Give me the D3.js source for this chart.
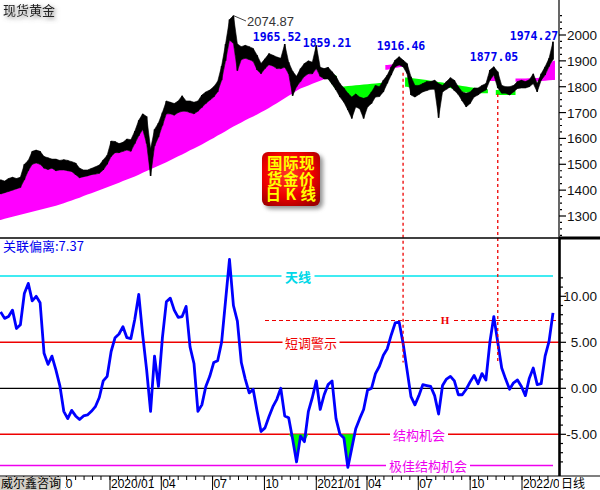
<!DOCTYPE html>
<html><head><meta charset="utf-8">
<script src="https://cdn.jsdelivr.net/npm/d3@7"></script>
<style>
html,body{margin:0;padding:0;background:#fff;}
svg{display:block;}
</style></head><body>
<svg id="c" width="600" height="490"></svg>
<script>
// ---------- DATA (weekly samples) ----------
const startDate = "2019-06-21";
const stepDays = 7;

const priceHigh = [
1440,1435,1445,1450,1445,1450,1500,1515,1550,1555,
1550,1530,1525,1520,1520,1515,1518,1515,1510,1505,
1485,1478,1478,1484,1490,1497,1517,1535,1590,1588,
1580,1585,1598,1595,1628,1670,1695,1685,1560,1635,
1660,1700,1745,1740,1735,1745,1765,1745,1745,1740,
1745,1768,1780,1787,1800,1820,1880,1965,2060,2075,
1965,1955,1960,1955,1948,1922,1890,1908,1928,1922,
1915,1910,1965,1895,1860,1840,1870,1890,1900,1895,
1960,1875,1870,1875,1858,1840,1812,1795,1775,1760,
1772,1760,1755,1760,1780,1805,1800,1825,1845,1877,
1903,1916,1903,1890,1839,1805,1805,1812,1820,1820,
1825,1812,1805,1820,1835,1825,1800,1780,1775,1780,
1795,1795,1805,1812,1865,1877,1858,1805,1800,1800,
1805,1820,1825,1820,1827,1850,1812,1850,1877,1910,
1974];

const priceLow = [
1385,1390,1395,1400,1405,1410,1440,1475,1500,1505,
1500,1485,1480,1485,1475,1478,1478,1475,1472,1460,
1448,1452,1455,1460,1462,1465,1478,1500,1530,1545,
1545,1550,1555,1550,1580,1610,1635,1580,1455,1570,
1605,1650,1695,1695,1690,1700,1705,1705,1700,1695,
1705,1720,1735,1748,1760,1780,1825,1900,1980,1968,
1862,1905,1910,1905,1898,1865,1850,1870,1885,1880,
1870,1870,1875,1850,1765,1800,1820,1840,1850,1850,
1870,1840,1830,1830,1810,1787,1760,1740,1710,1677,
1722,1715,1677,1722,1735,1760,1762,1780,1813,1845,
1877,1884,1877,1851,1768,1760,1770,1780,1785,1790,
1790,1680,1780,1790,1800,1785,1770,1745,1722,1735,
1760,1768,1780,1787,1825,1845,1795,1775,1775,1768,
1780,1793,1795,1795,1800,1812,1780,1825,1845,1878,
1905];

const baseLine = [
1285,1289,1293,1297,1301,1305,1309,1313,1316,1320,
1324,1328,1332,1336,1340,1344,1349,1355,1360,1366,
1371,1377,1383,1388,1394,1400,1405,1411,1417,1423,
1429,1435,1441,1447,1453,1460,1467,1474,1481,1488,
1494,1501,1508,1516,1523,1531,1538,1546,1554,1561,
1569,1577,1585,1594,1602,1611,1619,1628,1637,1646,
1654,1662,1670,1678,1685,1693,1701,1709,1718,1727,
1736,1746,1755,1765,1774,1784,1793,1799,1805,1811,
1817,1823,1829,1835,1840,1845,1800,1801,1803,1804,
1806,1807,1809,1810,1811,1812,1814,1815,1866,1869,
1872,1875,1878,1836,1834,1832,1830,1828,1826,1823,
1821,1818,1816,1813,1811,1808,1806,1803,1801,1798,
1796,1794,1792,1790,1822,1822,1787,1786,1785,1785,
1784,1819,1819,1819,1820,1820,1821,1822,1823,1825,
1826];

const fillEdge = [
1385,1390,1395,1400,1405,1410,1440,1475,1500,1505,
1500,1485,1480,1485,1475,1478,1478,1475,1472,1460,
1448,1452,1455,1460,1462,1465,1478,1500,1530,1545,
1545,1550,1555,1550,1580,1610,1635,1580,1486,1570,
1605,1650,1695,1695,1690,1700,1705,1705,1700,1695,
1705,1720,1735,1748,1760,1780,1825,1900,1980,1968,
1862,1905,1910,1905,1898,1865,1850,1870,1885,1880,
1870,1870,1875,1850,1785,1800,1820,1840,1850,1850,
1870,1840,1830,1830,1810,1787,1785,1760,1748,1740,
1735,1735,1745,1750,1760,1770,1780,1800,1884,1886,
1888,1890,1892,1800,1795,1795,1795,1800,1800,1802,
1800,1798,1796,1795,1795,1790,1785,1780,1778,1778,
1776,1775,1775,1775,1841,1841,1768,1768,1768,1768,
1768,1832,1832,1832,1833,1834,1834,1836,1845,1878,
1900];

const deviation = [
8.3,7.6,7.8,8.5,6.5,6.9,10.3,11.4,9.5,10.0,
9.3,3.8,2.6,3.5,2.0,0.3,-2.5,-3.3,-2.4,-3.0,
-3.4,-3.0,-2.9,-2.5,-2.0,-1.0,0.8,1.3,4.0,5.5,
5.9,6.7,5.5,5.4,7.5,10.2,5.8,2.0,-2.5,3.5,
0.2,5.5,9.4,9.8,8.5,7.7,7.8,8.9,4.5,2.7,
-2.5,-1.8,0.2,1.3,2.8,3.0,5.0,9.5,14.0,9.0,
7.3,2.8,1.0,-0.5,-0.1,-2.5,-4.7,-4.3,-3.1,-2.0,
-1.2,0.0,-3.0,-3.2,-5.5,-8.0,-5.2,-5.8,-2.5,-1.0,
0.8,-2.3,-0.7,0.4,0.8,-3.3,-5.0,-5.4,-8.6,-6.5,
-4.4,-3.3,-2.3,-0.2,0.0,1.6,2.4,3.6,4.3,5.8,
7.1,7.2,4.9,2.0,-0.9,-1.8,-0.8,0.4,0.3,0.2,
-0.8,-2.8,0.3,1.0,1.3,0.8,-0.7,-0.7,-0.1,0.7,
1.4,0.5,1.6,0.9,5.0,7.8,5.0,2.2,1.0,-0.1,
0.6,0.9,0.2,-0.8,1.1,2.2,0.4,0.5,3.5,5.1,
8.2];

const priceTicks = [1300,1400,1500,1600,1700,1800,1900,2000];
const devTicks = [-5,0,5,10];
const devTickLabels = ["-5.00","0.00","5.00","10.00"];
const axisDates = ["2019-10-01","2020-01-01","2020-04-01","2020-07-01","2020-10-01","2021-01-01","2021-04-01","2021-07-01","2021-10-01","2022-01-01"];
const axisLabels = ["10","2020/01","04","07","10","2021/01","04","07","10","2022/0"];

const skyLevel = 12.2, warnLevel = 5, zeroLevel = 0, chanceLevel = -5, bestLevel = -8.4;
const hLevel = 7.37;
const lastDeviation = 7.37;
const peakLabels = ["1965.52","1859.21","1916.46","1877.05","1974.27"];
const maxLabel = "2074.87";
const markDates = ["2021-06-04","2021-11-19"];   // red dashed vertical marks

// ---------- SETUP ----------
const parse = d3.timeParse("%Y-%m-%d");
const t0 = parse(startDate);
const rows = priceHigh.map((h,i)=>({
  date: d3.timeDay.offset(t0, i*stepDays),
  hi: h, lo: priceLow[i], base: baseLine[i], edge: fillEdge[i], dev: deviation[i]
}));

const svg = d3.select("#c");
const W = 600, H = 490, plotR = 559, divY = 238, botY = 476;
const x = d3.scaleTime().domain([parse("2020-01-01"), parse("2022-01-01")]).range([110, 522]);
const yP = d3.scaleLinear().domain([1300, 2000]).range([216, 35]);
const yD = d3.scaleLinear().domain([0, 10]).range([388.3, 296.3]);

const defs = svg.append("defs");
defs.append("clipPath").attr("id","clipTop").append("rect").attr("x",0).attr("y",0).attr("width",plotR).attr("height",divY);
defs.append("clipPath").attr("id","clipBot").append("rect").attr("x",0).attr("y",divY).attr("width",plotR).attr("height",botY-divY);
defs.append("clipPath").attr("id","clipAxis").append("rect").attr("x",65).attr("y",476).attr("width",plotR-65).attr("height",14);
const sh = defs.append("filter").attr("id","txtShadow").attr("x","-20%").attr("y","-40%").attr("width","150%").attr("height","200%");
sh.append("feDropShadow").attr("dx",2).attr("dy",2).attr("stdDeviation",2).attr("flood-color","#777").attr("flood-opacity",0.9);
const blur = defs.append("filter").attr("id","blur3");
blur.append("feGaussianBlur").attr("stdDeviation",2);
const rg = defs.append("radialGradient").attr("id","badgeGrad").attr("cx","45%").attr("cy","40%").attr("r","70%");
rg.append("stop").attr("offset","0%").attr("stop-color","#ff3a2a");
rg.append("stop").attr("offset","60%").attr("stop-color","#ee0000");
rg.append("stop").attr("offset","100%").attr("stop-color","#a00000");

// ---------- TOP PANEL ----------
const topG = svg.append("g").attr("clip-path","url(#clipTop)");

function buildRuns(pred){
  const out=[]; let cur=null;
  rows.forEach(r=>{ if(pred(r)){ if(!cur){cur=[];out.push(cur);} cur.push(r);} else cur=null; });
  const half = (x(rows[1].date)-x(rows[0].date))/2;
  return out.map(run=>{
    const pts = run.map(r=>({px:x(r.date), base:r.base, edge:r.edge}));
    const f = pts[0], l = pts[pts.length-1];
    return [{px:f.px-half, base:f.base, edge:f.edge}, ...pts, {px:l.px+half, base:l.base, edge:l.edge}];
  });
}
const fillArea = d3.area().x(d=>d.px).y0(d=>yP(d.base)).y1(d=>yP(d.edge));
buildRuns(r=>r.edge>=r.base).forEach(run=>{
  topG.append("path").attr("d",fillArea(run)).attr("fill","#ff00ff");
});
buildRuns(r=>r.edge<r.base).forEach(run=>{
  topG.append("path").attr("d",fillArea(run)).attr("fill","#00ff00");
});

// candles: dense band plus vertical bars
const band = d3.area().x(d=>x(d.date)).y0(d=>yP(d.lo)).y1(d=>yP(d.hi));
topG.append("path").attr("d",band(rows)).attr("fill","#000").attr("stroke","#000").attr("stroke-width",0.6);
topG.selectAll("line.cd").data(rows).join("line").attr("class","cd")
  .attr("x1",d=>x(d.date)).attr("x2",d=>x(d.date))
  .attr("y1",d=>yP(d.hi)).attr("y2",d=>yP(d.lo))
  .attr("stroke","#000").attr("stroke-width",1.6);

// ---------- BOTTOM PANEL ----------
const bot = svg.append("g").attr("clip-path","url(#clipBot)");
function hline(level, color, x1, x2, dash, w){
  bot.append("line").attr("x1",x1).attr("x2",x2).attr("y1",yD(level)).attr("y2",yD(level))
    .attr("stroke",color).attr("stroke-width",w||1.2).attr("stroke-dasharray",dash||null);
}
hline(skyLevel, "#00e5ee", 0, 553, null, 1.5);
hline(warnLevel, "#ee0000", 0, plotR, null, 1.5);
hline(zeroLevel, "#000", 0, plotR, null, 1.3);
hline(chanceLevel, "#ee0000", 0, plotR, null, 1.5);
hline(bestLevel, "#ee00ee", 0, 553, null, 1.5);
hline(hLevel, "#ee0000", 265, 556, "4,3", 1.2);

const lowArea = d3.area().x(d=>x(d.date)).y0(yD(chanceLevel)).y1(d=>yD(Math.min(d.dev, chanceLevel)));
bot.append("path").attr("d",lowArea(rows)).attr("fill","#00ff00");

const rowByDate = s => rows.reduce((a,b)=>Math.abs(b.date-parse(s))<Math.abs(a.date-parse(s))?b:a);
markDates.forEach(s=>{
  const r = rowByDate(s);
  svg.append("line").attr("x1",x(r.date)).attr("x2",x(r.date))
    .attr("y1",yP(r.lo)+6).attr("y2",yD(2.8))
    .attr("stroke","#ee0000").attr("stroke-width",1.3).attr("stroke-dasharray","3,3");
});

const devLine = d3.line().x(d=>x(d.date)).y(d=>yD(d.dev));
bot.append("path").attr("d",devLine(rows)).attr("fill","none").attr("stroke","#0000ff")
  .attr("stroke-width",2.8).attr("stroke-linejoin","round");

function levelLabel(level, text, cx, color, w, size, fam, weight){
  svg.append("rect").attr("x",cx-w/2).attr("y",yD(level)-7).attr("width",w).attr("height",14).attr("fill","#fff");
  svg.append("text").attr("x",cx).attr("y",yD(level)).attr("text-anchor","middle").attr("dominant-baseline","central")
    .attr("fill",color).attr("font-size",size||13).attr("font-family",fam||"'Noto Sans CJK SC'").attr("font-weight",weight||"normal").text(text);
}
levelLabel(skyLevel, "天线", 298, "#00d8e8", 33, 13, null, "bold");
levelLabel(warnLevel, "短调警示", 311, "#ee0000", 57, 13);
levelLabel(chanceLevel, "结构机会", 419, "#ee00ee", 58, 13);
levelLabel(bestLevel, "极佳结构机会", 428, "#ee00ee", 84, 13);
levelLabel(hLevel, "H", 445, "#ee0000", 14, 11, "'Liberation Serif'", "bold");

svg.append("text").attr("x",3).attr("y",251).attr("fill","#0000ee").attr("font-size",13)
  .attr("font-family","'Noto Sans CJK SC'").text("关联偏离:" + lastDeviation.toFixed(2));

// ---------- FRAME / AXES ----------
svg.append("line").attr("x1",0).attr("x2",W).attr("y1",divY).attr("y2",divY).attr("stroke","#000").attr("stroke-width",1.3);
svg.append("line").attr("x1",plotR).attr("x2",W).attr("y1",divY).attr("y2",divY).attr("stroke","#000").attr("stroke-width",3);
svg.append("line").attr("x1",plotR).attr("x2",plotR).attr("y1",0).attr("y2",divY).attr("stroke","#000").attr("stroke-width",1.2);
svg.append("line").attr("x1",plotR+0.5).attr("x2",plotR+0.5).attr("y1",divY).attr("y2",botY).attr("stroke","#000").attr("stroke-width",2.6);
svg.append("line").attr("x1",0).attr("x2",W).attr("y1",botY).attr("y2",botY).attr("stroke","#000").attr("stroke-width",1.2);

const minorP = d3.range(1225, 2076, 25).filter(v=>v%100!==0);
svg.selectAll("line.mp").data(minorP).join("line").attr("class","mp")
  .attr("x1",plotR+1).attr("x2",plotR+3).attr("y1",d=>yP(d)).attr("y2",d=>yP(d)).attr("stroke","#000").attr("stroke-width",1.2);
svg.selectAll("line.tp").data(priceTicks).join("line").attr("class","tp")
  .attr("x1",plotR).attr("x2",plotR+7).attr("y1",d=>yP(d)).attr("y2",d=>yP(d)).attr("stroke","#000").attr("stroke-width",1.2);
svg.selectAll("text.tp").data(priceTicks).join("text").attr("class","tp")
  .attr("x",597).attr("y",d=>yP(d)+5).attr("text-anchor","end").attr("font-size",13.5)
  .attr("font-family","'Liberation Sans', Arial").attr("fill","#111").text(d=>d);

const minorD = d3.range(-8, 13, 1).filter(v=>v%5!==0);
svg.selectAll("line.md").data(minorD).join("line").attr("class","md")
  .attr("x1",plotR+1).attr("x2",plotR+4).attr("y1",d=>yD(d)).attr("y2",d=>yD(d)).attr("stroke","#000").attr("stroke-width",1.2);
svg.selectAll("line.td").data(devTicks).join("line").attr("class","td")
  .attr("x1",plotR).attr("x2",plotR+7).attr("y1",d=>yD(d)).attr("y2",d=>yD(d)).attr("stroke","#000").attr("stroke-width",1.2);
svg.selectAll("text.td").data(devTicks).join("text").attr("class","td")
  .attr("x",597).attr("y",d=>yD(d)+5).attr("text-anchor","end").attr("font-size",13.5)
  .attr("font-family","'Liberation Sans', Arial").attr("fill","#111").text((d,i)=>devTickLabels[i]);

const minorT = [];
d3.timeMonth.range(parse("2019-07-01"), parse("2022-03-01")).forEach(m=>{ minorT.push(m); minorT.push(d3.timeDay.offset(m,15)); });
svg.selectAll("line.mt").data(minorT).join("line").attr("class","mt")
  .attr("x1",d=>x(d)).attr("x2",d=>x(d)).attr("y1",botY).attr("y2",botY+4).attr("stroke","#000").attr("stroke-width",1);
svg.selectAll("line.tt").data(axisDates).join("line").attr("class","tt")
  .attr("x1",d=>x(parse(d))).attr("x2",d=>x(parse(d))).attr("y1",botY).attr("y2",H).attr("stroke","#000").attr("stroke-width",1);
svg.append("g").attr("clip-path","url(#clipAxis)").selectAll("text.tt").data(axisDates).join("text").attr("class","tt")
  .attr("x",d=>x(parse(d))+1).attr("y",488).attr("font-size",12)
  .attr("font-family","'Liberation Sans', Arial").attr("fill","#000").text((d,i)=>axisLabels[i]);
svg.append("rect").attr("x",0).attr("y",477).attr("width",61).attr("height",13).attr("fill","#d4d0c8");
svg.append("text").attr("x",1).attr("y",488).attr("font-size",12).attr("font-family","'Noto Sans CJK SC'").attr("fill","#000").text("威尔鑫咨询");
svg.append("rect").attr("x",plotR+1).attr("y",477).attr("width",W-plotR-1).attr("height",13).attr("fill","#fff");
svg.append("text").attr("x",561).attr("y",488).attr("font-size",12).attr("font-family","'Noto Sans CJK SC'").attr("fill","#000").text("日线");

// ---------- ANNOTATIONS ----------
svg.append("text").attr("x",3).attr("y",15).attr("font-size",13).attr("font-family","'Noto Sans CJK SC'")
  .attr("fill","#222").attr("filter","url(#txtShadow)").text("现货黄金");

const peakRow = rows.reduce((a,b)=>b.hi>a.hi?b:a);
svg.append("line").attr("x1",x(peakRow.date)).attr("y1",yP(peakRow.hi)).attr("x2",246).attr("y2",21)
  .attr("stroke","#444").attr("stroke-width",1);
svg.append("text").attr("x",247).attr("y",26).attr("font-size",13).attr("font-family","'Liberation Sans', Arial")
  .attr("fill","#333").text(maxLabel);

const peakPos = [[277,41],[327,47],[401,50],[494,61],[534,40]];
svg.selectAll("text.pk").data(peakLabels).join("text").attr("class","pk")
  .attr("x",(d,i)=>peakPos[i][0]).attr("y",(d,i)=>peakPos[i][1]).attr("text-anchor","middle")
  .attr("font-size",11.5).attr("font-weight","bold").attr("font-family","'DejaVu Sans Mono', monospace")
  .attr("fill","#0000ee").text(d=>d);

const bg = svg.append("g");
bg.append("rect").attr("x",265).attr("y",155).attr("width",58).attr("height",54).attr("rx",6).attr("fill","#666").attr("opacity",0.7).attr("filter","url(#blur3)");
bg.append("rect").attr("x",262).attr("y",152).attr("width",58).attr("height",54).attr("rx",6).attr("fill","url(#badgeGrad)");
const badgeLines = ["国际现","货金价","日 K 线"];
badgeLines.forEach((ln,r)=>{
  bg.append("text").attr("x",291).attr("y",169+r*15.5).attr("text-anchor","middle")
    .attr("font-size",15.5).attr("font-weight","bold").attr("letter-spacing","0.5px")
    .attr("font-family","'Noto Sans CJK SC'").attr("fill","#ffff00").text(ln);
});
</script>
</body></html>
